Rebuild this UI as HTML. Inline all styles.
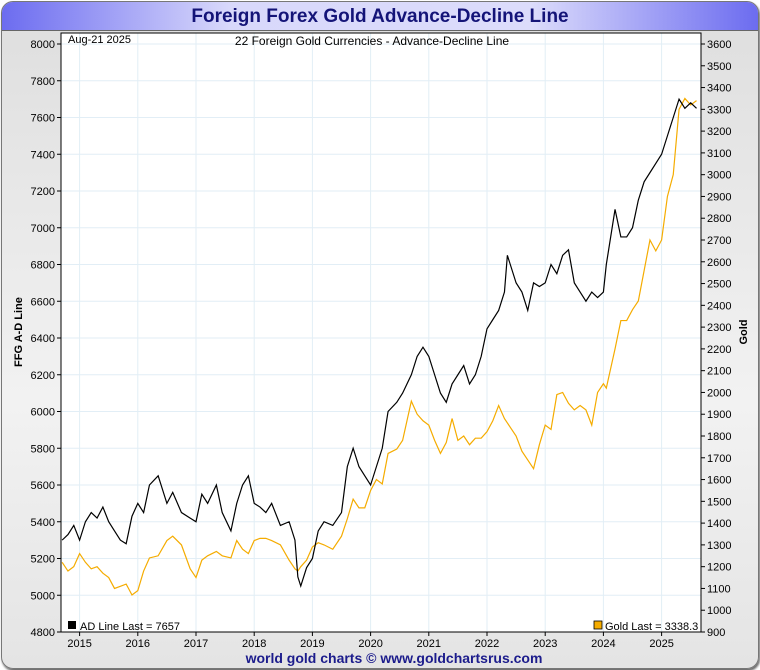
<!DOCTYPE html>
<html><head><meta charset="utf-8"><style>
body{margin:0;background:#fff;}
#frame{position:absolute;left:1px;top:1px;width:756px;height:666px;border-radius:12px;border:1px solid #777;background:linear-gradient(#dedede,#f2f2f2 60%,#e4e4e4);overflow:hidden;box-shadow:1px 2px 2px #666;}
#title{position:absolute;left:0;top:0;width:756px;height:28px;background:linear-gradient(90deg,#6c6cf0,#d8d8fb 30%,#dcdcfb 70%,#6c6cf0);border-bottom:1px solid #666;text-align:center;font:bold 19px "Liberation Sans",sans-serif;color:#141478;line-height:29px;}
svg{position:absolute;left:0;top:0;}
</style></head><body>
<div id="frame"><div id="title">Foreign Forex Gold Advance-Decline Line</div></div>
<svg id="c" width="760" height="670"></svg>
<script>
const dates=[2014.7,2014.8,2014.9,2015.0,2015.1,2015.2,2015.3,2015.4,2015.5,2015.6,2015.7,2015.8,2015.9,2016.0,2016.1,2016.2,2016.35,2016.5,2016.6,2016.75,2016.9,2017.0,2017.1,2017.2,2017.35,2017.45,2017.6,2017.7,2017.8,2017.9,2018.0,2018.1,2018.2,2018.3,2018.45,2018.6,2018.7,2018.75,2018.8,2018.9,2019.0,2019.1,2019.2,2019.35,2019.5,2019.6,2019.7,2019.8,2019.9,2020.0,2020.1,2020.2,2020.3,2020.45,2020.55,2020.7,2020.8,2020.9,2021.0,2021.1,2021.2,2021.3,2021.4,2021.5,2021.6,2021.7,2021.8,2021.9,2022.0,2022.1,2022.2,2022.3,2022.35,2022.4,2022.5,2022.6,2022.7,2022.8,2022.9,2023.0,2023.1,2023.2,2023.3,2023.4,2023.5,2023.6,2023.7,2023.8,2023.9,2024.0,2024.05,2024.2,2024.3,2024.4,2024.5,2024.6,2024.7,2024.8,2024.9,2025.0,2025.1,2025.2,2025.3,2025.4,2025.5,2025.6];
const adValues=[5300,5330,5380,5300,5400,5450,5420,5480,5400,5350,5300,5280,5430,5500,5450,5600,5650,5500,5560,5450,5420,5400,5550,5500,5600,5450,5350,5500,5600,5650,5500,5480,5450,5500,5380,5400,5300,5100,5050,5150,5200,5350,5400,5380,5450,5700,5800,5700,5650,5600,5700,5800,6000,6050,6100,6200,6300,6350,6300,6200,6100,6050,6150,6200,6250,6150,6200,6300,6450,6500,6550,6650,6850,6800,6700,6650,6550,6700,6680,6700,6800,6750,6850,6880,6700,6650,6600,6650,6620,6650,6800,7100,6950,6950,7000,7150,7250,7300,7350,7400,7500,7600,7700,7650,7680,7650];
const goldValues=[1220,1180,1200,1260,1220,1190,1200,1170,1150,1100,1110,1120,1070,1090,1180,1240,1250,1320,1340,1300,1190,1150,1230,1250,1270,1250,1240,1320,1280,1260,1320,1330,1330,1320,1300,1230,1190,1180,1200,1230,1290,1310,1300,1280,1340,1420,1510,1470,1470,1550,1600,1580,1720,1740,1780,1960,1900,1870,1850,1780,1720,1770,1880,1780,1800,1760,1790,1790,1820,1870,1940,1880,1860,1840,1800,1730,1690,1650,1760,1850,1830,1990,2000,1950,1920,1940,1920,1850,2000,2040,2020,2200,2330,2330,2380,2420,2560,2700,2650,2700,2900,3000,3300,3350,3320,3340];
const leftTicks=[4800,5000,5200,5400,5600,5800,6000,6200,6400,6600,6800,7000,7200,7400,7600,7800,8000];
const rightTicks=[900,1000,1100,1200,1300,1400,1500,1600,1700,1800,1900,2000,2100,2200,2300,2400,2500,2600,2700,2800,2900,3000,3100,3200,3300,3400,3500,3600];
const years=[2015,2016,2017,2018,2019,2020,2021,2022,2023,2024,2025];
const L=61,R=701,T=33,B=632;
const xs=t=>79.6+(t-2015)*58.2;
const yl=v=>B-(v-4800)*(B-44)/3200;
const yr=v=>B-(v-900)*(B-44)/2700;
const svg=document.getElementById('c');const NS='http://www.w3.org/2000/svg';
function mk(tag,a,txt){const e=document.createElementNS(NS,tag);for(const k in a)e.setAttribute(k,a[k]);if(txt!==undefined)e.textContent=txt;svg.appendChild(e);return e;}
const F='font-family:"Liberation Sans",sans-serif;';
mk('rect',{x:L,y:T,width:R-L,height:B-T,fill:'#fff'});
leftTicks.forEach(v=>{const y=yl(v);
const g=mk('line',{x1:L,x2:R,y1:y,y2:y,stroke:'#e2eef6','stroke-width':1});


mk('line',{x1:L-4,x2:L,y1:y,y2:y,stroke:'#000'});
const t=mk('text',{x:L-6,y:y+4,'text-anchor':'end',style:F+'font-size:11px'},v);

});
rightTicks.forEach(v=>{const y=yr(v);
mk('line',{x1:R,x2:R+4,y1:y,y2:y,stroke:'#000'});
const t=mk('text',{x:R+6,y:y+4,style:F+'font-size:11px'},v);

});
years.forEach(yv=>{const x=xs(yv);
const g=mk('line',{x1:x,x2:x,y1:T,y2:B,stroke:'#e2eef6'});


mk('line',{x1:x,x2:x,y1:B,y2:B+4,stroke:'#000'});
const t=mk('text',{x:x,y:B+15,'text-anchor':'middle',style:F+'font-size:11px'},yv);

});
const gp=mk('polyline',{points:dates.map((d,i)=>xs(d)+','+yr(goldValues[i])).join(' '),fill:'none',stroke:'#f5ac00','stroke-width':1.2});


const ap=mk('polyline',{points:dates.map((d,i)=>xs(d)+','+yl(adValues[i])).join(' '),fill:'none',stroke:'#000','stroke-width':1.2});


mk('rect',{x:L,y:T,width:R-L,height:B-T,fill:'none',stroke:'#000','stroke-width':1});
mk('text',{x:68,y:43,style:F+'font-size:11px'},'Aug-21  2025');
mk('text',{x:372,y:45,'text-anchor':'middle',style:F+'font-size:12px'},'22 Foreign Gold Currencies - Advance-Decline Line');
mk('rect',{x:68,y:621,width:8,height:8,fill:'#000'});
mk('text',{x:80,y:630,style:F+'font-size:11px'},'AD Line Last = 7657');
mk('rect',{x:594,y:621,width:8,height:8,fill:'#f5ac00',stroke:'#000','stroke-width':0.8});
mk('text',{x:605,y:630,style:F+'font-size:11px'},'Gold  Last = 3338.3');
mk('text',{x:22,y:332,'text-anchor':'middle',transform:'rotate(-90 22 332)',style:F+'font-size:11px;font-weight:bold'},'FFG A-D Line');
mk('text',{x:747,y:332,'text-anchor':'middle',transform:'rotate(-90 747 332)',style:F+'font-size:11px;font-weight:bold'},'Gold');
const ft=mk('text',{x:394,y:663,'text-anchor':'middle',style:F+'font-size:14px;font-weight:bold;fill:#1c1c8c'},'world gold charts © www.goldchartsrus.com');


</script>
</body></html>
